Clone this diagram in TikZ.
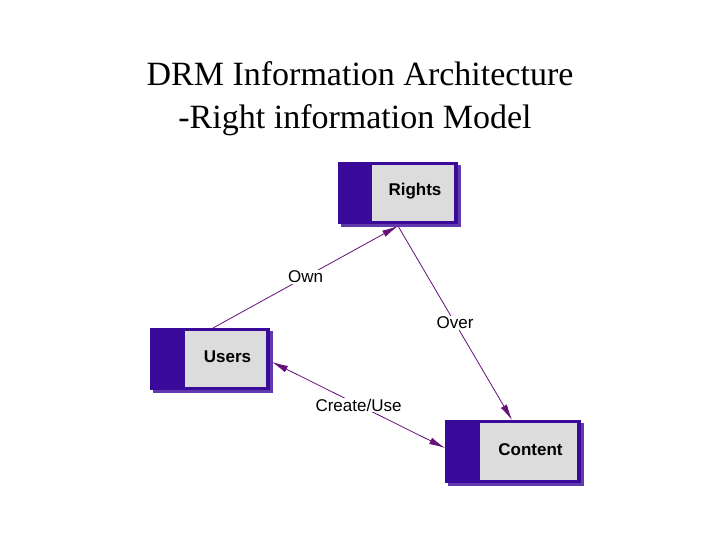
\documentclass[tikz,border=0pt]{standalone}
\usepackage{fontspec}
\setmainfont{Liberation Serif}
\newfontfamily\lab{Liberation Sans}
\usetikzlibrary{arrows.meta}
\definecolor{boxp}{HTML}{3A0A9A}
\definecolor{arrp}{HTML}{66107A}
\definecolor{inner}{HTML}{DCDCDC}
\begin{document}
\begin{tikzpicture}[x=1pt,y=-1pt,
  conn/.style={draw=arrp,line width=0.8pt},
  tip/.style={-{Latex[length=16pt,width=7pt]}},
  lbl/.style={font=\lab\fontsize{17}{20}\selectfont,fill=white,inner sep=1pt},
  btxt/.style={font=\lab\bfseries\fontsize{17}{20}\selectfont}]
\useasboundingbox (0,0) rectangle (720,540);
\node[font=\fontsize{34}{40}\selectfont] (t1) at (360,74) {DRM Information Architecture};
\node[font=\fontsize{34}{40}\selectfont] (t2) at (355,120) {-Right information Model};
\newcommand\rbox[7]{%
  \fill[boxp!80!white] (#2+3,#3+3) rectangle (#4+3,#5+3);
  \fill[boxp] (#2,#3) rectangle (#4,#5);
  \fill[inner] (#6,#3+3) rectangle (#4-4,#5-3);
  \node[btxt] (#1) at ({(#6+#4)/2},{(#3+#5)/2-2}) {#7};}
\rbox{rights}{338}{162}{458}{224}{372}{Rights}
\rbox{users}{150}{328}{270}{390}{185}{Users}
\rbox{content}{445}{420}{581}{483}{480}{Content}
\coordinate (rb) at (398,226);
\coordinate (ub) at (213,328);
\coordinate (ur) at (272,362);
\coordinate (ct) at (512,420);
\coordinate (cl) at (445,448);
\draw[conn,tip] (ub) -- node[lbl,pos=0.5] {Own} (rb);
\draw[conn,tip] (rb) -- node[lbl,pos=0.5] {Over} (ct);
\draw[conn,{Latex[length=16pt,width=7pt]}-{Latex[length=16pt,width=7pt]}] (ur) -- node[lbl,pos=0.5] {Create/Use} (cl);
\end{tikzpicture}
\end{document}
